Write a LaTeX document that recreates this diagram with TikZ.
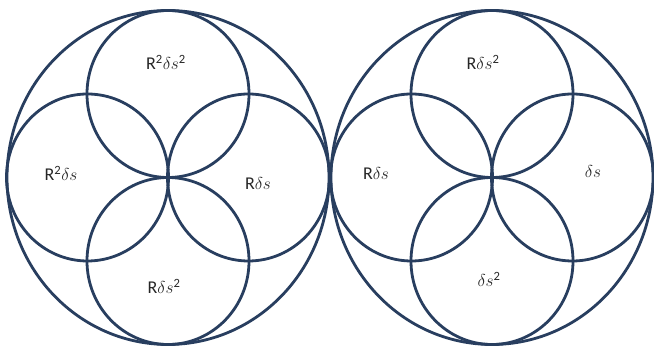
\documentclass[tikz,border=0pt]{standalone}
\usepackage{fontspec}
\setmainfont{Carlito}
\definecolor{ringblue}{RGB}{40,62,95}
\begin{document}
\begin{tikzpicture}[x=1pt,y=-1pt,
  ring/.style={draw=ringblue,line width=2.8pt},
  lbl/.style={anchor=base,inner sep=0pt,font=\fontsize{18}{20}\selectfont,text=black!85}]
\useasboundingbox (0,0) rectangle (654,347);
\newcommand{\sq}{\textsuperscript{2}}
% centres of the two large rings
\coordinate (L) at (168,177.5);
\coordinate (Rc) at (492,177.5);
\foreach \c in {L,Rc}{
  \draw[ring] (\c) ellipse [x radius=161pt, y radius=167pt];
  \draw[ring] ([yshift=-83.5pt]\c) ellipse [x radius=81pt, y radius=83.5pt];
  \draw[ring] ([yshift=83.5pt]\c) ellipse [x radius=81pt, y radius=83.5pt];
  \draw[ring] ([xshift=-80.5pt]\c) ellipse [x radius=81pt, y radius=83.5pt];
  \draw[ring] ([xshift=80.5pt]\c) ellipse [x radius=81pt, y radius=83.5pt];
}
% left diagram labels
\node[lbl] (lt) at (166,70) {R\sq$\delta s$\sq};
\node[lbl] (ll) at (61,181) {R\sq$\delta s$};
\node[lbl] (lr) at (258,190) {R$\delta s$};
\node[lbl] (lb) at (164,294) {R$\delta s$\sq};
% right diagram labels
\node[lbl] (rt) at (483,70) {R$\delta s$\sq};
\node[lbl] (rl) at (376,180) {R$\delta s$};
\node[lbl] (rr) at (593,178) {$\delta s$};
\node[lbl] (rb) at (489,287) {$\delta s$\sq};
\end{tikzpicture}
\end{document}
